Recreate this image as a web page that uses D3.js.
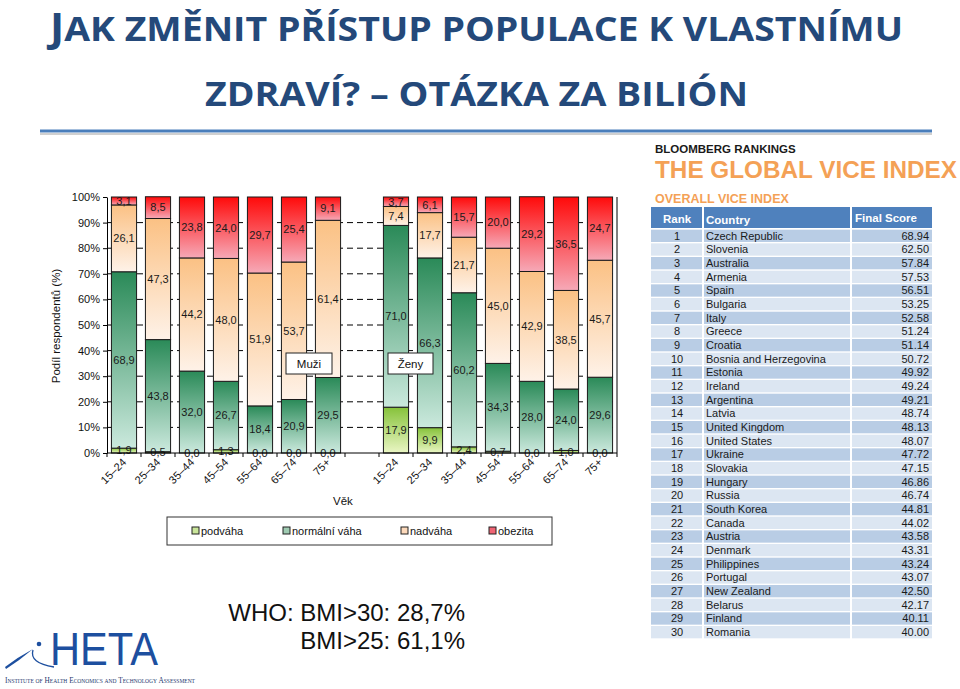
<!DOCTYPE html>
<html><head><meta charset="utf-8">
<script src="https://cdn.jsdelivr.net/npm/d3@7"></script>
<style>
body{margin:0;background:#fff;}
svg{display:block;font-family:"Liberation Sans",Arial,sans-serif;}
</style></head>
<body>
<svg id="c" width="960" height="689"></svg>
<script>
// ---------- DATA ----------
const ageGroups = ["15–24","25–34","35–44","45–54","55–64","65–74","75+"];
const seriesNames = ["podváha","normální váha","nadváha","obezita"];
const maleUnder  = [1.9, 0.5, 0.0, 1.3, 0.0, 0.0, 0.0];
const maleNormal = [68.9, 43.8, 32.0, 26.7, 18.4, 20.9, 29.5];
const maleOver   = [26.1, 47.3, 44.2, 48.0, 51.9, 53.7, 61.4];
const maleObese  = [3.1, 8.5, 23.8, 24.0, 29.7, 25.4, 9.1];
const femaleUnder  = [17.9, 9.9, 2.4, 0.7, 0.0, 1.0, 0.0];
const femaleNormal = [71.0, 66.3, 60.2, 34.3, 28.0, 24.0, 29.6];
const femaleOver   = [7.4, 17.7, 21.7, 45.0, 42.9, 38.5, 45.7];
const femaleObese  = [3.7, 6.1, 15.7, 20.0, 29.2, 36.5, 24.7];
const yTicks = [0,10,20,30,40,50,60,70,80,90,100];
const gridTicks = [10,20,30,40,50,60,70,80,90];

const ranks = [1,2,3,4,5,6,7,8,9,10,11,12,13,14,15,16,17,18,19,20,21,22,23,24,25,26,27,28,29,30];
const countries = ["Czech Republic","Slovenia","Australia","Armenia","Spain","Bulgaria","Italy","Greece","Croatia","Bosnia and Herzegovina","Estonia","Ireland","Argentina","Latvia","United Kingdom","United States","Ukraine","Slovakia","Hungary","Russia","South Korea","Canada","Austria","Denmark","Philippines","Portugal","New Zealand","Belarus","Finland","Romania"];
const scores = ["68.94","62.50","57.84","57.53","56.51","53.25","52.58","51.24","51.14","50.72","49.92","49.24","49.21","48.74","48.13","48.07","47.72","47.15","46.86","46.74","44.81","44.02","43.58","43.31","43.24","43.07","42.50","42.17","40.11","40.00"];

// ---------- BUILD ----------
const svg = d3.select("#c");
const defs = svg.append("defs");
const gradStops = {
  "podváha": ["#86c23a","#eaf6c4"],
  "normální váha": ["#2a8a58","#cbe9dd"],
  "nadváha": ["#fbc184","#fef2e8"],
  "obezita": ["#ff0a0a","#f6a9b7"]
};
const legendFill = {"podváha":"#c9e59a","normální váha":"#9fcbb2","nadváha":"#fcd9bb","obezita":"#f06474"};
seriesNames.forEach((s,i)=>{
  const g = defs.append("linearGradient").attr("id","g"+i).attr("x1",0).attr("y1",0).attr("x2",0).attr("y2",1);
  g.append("stop").attr("offset","0%").attr("stop-color",gradStops[s][0]);
  g.append("stop").attr("offset","100%").attr("stop-color",gradStops[s][1]);
});

// Title
const titleColor = "#24497a";
const tf = '"Liberation Sans Narrow","Open Sans",sans-serif';
const t1 = svg.append("text").attr("x",50).attr("y",41).attr("fill",titleColor)
  .attr("font-family",tf).attr("font-weight","bold")
  .attr("textLength",853).attr("lengthAdjust","spacingAndGlyphs");
t1.append("tspan").attr("font-size",39).text("J");
t1.append("tspan").attr("font-size",34).text("AK ZMĚNIT PŘÍSTUP POPULACE K VLASTNÍMU");
svg.append("text").attr("x",205).attr("y",106).attr("fill",titleColor)
  .attr("font-family",tf).attr("font-weight","bold").attr("font-size",34)
  .attr("textLength",543).attr("lengthAdjust","spacingAndGlyphs")
  .text("ZDRAVÍ? – OTÁZKA ZA BILIÓN");
svg.append("line").attr("x1",40).attr("x2",932).attr("y1",134).attr("y2",134).attr("stroke","#d0d0d0").attr("stroke-width",2);
svg.append("line").attr("x1",40).attr("x2",932).attr("y1",131).attr("y2",131).attr("stroke","#4a7ebb").attr("stroke-width",3);

// ---------- CHART ----------
const slotKeys = ageGroups.map(a=>"M|"+a).concat(["gap"]).concat(ageGroups.map(a=>"F|"+a));
const x = d3.scaleBand().domain(slotKeys).range([107,617]).paddingInner(0.26).paddingOuter(0.13);
const y = d3.scaleLinear().domain([0,100]).range([453,197]);
const chart = svg.append("g");

// gridlines
chart.selectAll(".grid").data(gridTicks).join("line")
  .attr("x1",107).attr("x2",617).attr("y1",d=>y(d)).attr("y2",d=>y(d))
  .attr("stroke","#000").attr("stroke-width",1).attr("stroke-dasharray","6,4");

const rows = [];
ageGroups.forEach((a,i)=>{
  rows.push({key:"M|"+a, "podváha":maleUnder[i], "normální váha":maleNormal[i], "nadváha":maleOver[i], "obezita":maleObese[i]});
});
ageGroups.forEach((a,i)=>{
  rows.push({key:"F|"+a, "podváha":femaleUnder[i], "normální váha":femaleNormal[i], "nadváha":femaleOver[i], "obezita":femaleObese[i]});
});
const stacked = d3.stack().keys(seriesNames)(rows);

stacked.forEach((layer,li)=>{
  const g = chart.append("g");
  g.selectAll("rect").data(layer.filter(d=>d[1]-d[0]>0)).join("rect")
    .attr("x",d=>x(d.data.key)).attr("width",x.bandwidth())
    .attr("y",d=>y(d[1])).attr("height",d=>y(d[0])-y(d[1]))
    .attr("fill","url(#g"+li+")").attr("stroke","#1a1a1a").attr("stroke-width",1);
});
// labels
stacked.forEach((layer,li)=>{
  chart.append("g").selectAll("text").data(layer).join("text")
    .attr("x",d=>x(d.data.key)+x.bandwidth()/2)
    .attr("y",d=>y((d[0]+d[1])/2))
    .attr("dy","0.35em").attr("text-anchor","middle")
    .attr("font-size",11).attr("fill","#1a1a1a")
    .text(d=>(d[1]-d[0]).toFixed(1).replace(".",","));
});

// axes
const yAxis = d3.axisLeft(y).tickValues(yTicks).tickFormat(d=>d+"%").tickSize(4).tickSizeOuter(0);
const ya = chart.append("g").attr("transform","translate(107,0)").call(yAxis);
ya.selectAll("text").attr("font-size",11).attr("fill","#111").attr("font-family","Liberation Sans, Arial, sans-serif");
ya.selectAll("line,path").attr("stroke","#000");
// x axis line + boundary ticks
chart.append("line").attr("x1",107).attr("x2",617).attr("y1",y(0)).attr("y2",y(0)).attr("stroke","#000");
chart.append("line").attr("x1",617).attr("x2",617).attr("y1",y(0)).attr("y2",y(100)).attr("stroke","#000");
const step = x.step();
const bounds = slotKeys.map(k=>x(k)-step*x.paddingInner()/2).concat([x(slotKeys[slotKeys.length-1])+x.bandwidth()+step*x.paddingInner()/2]);
chart.selectAll(".xt").data(bounds).join("line")
  .attr("x1",d=>d).attr("x2",d=>d).attr("y1",y(0)).attr("y2",y(0)+4).attr("stroke","#000");
const xAxis = d3.axisBottom(x).tickSize(0).tickFormat(k=>k==="gap"?"":k.split("|")[1]);
const xa = chart.append("g").attr("transform","translate(0,"+y(0)+")").call(xAxis);
xa.select(".domain").remove();
xa.selectAll("text").attr("font-size",11).attr("fill","#111").attr("font-family","Liberation Sans, Arial, sans-serif")
  .attr("text-anchor","end").attr("dy",null).attr("y",null)
  .attr("transform","translate(3,10) rotate(-45)");

svg.append("text").attr("transform","translate(60,326) rotate(-90)").attr("text-anchor","middle")
  .attr("font-size",11.5).attr("fill","#111").text("Podíl respondentů (%)");
svg.append("text").attr("x",333).attr("y",505).attr("font-size",11.5).attr("fill","#111").text("Věk");

// group annotation boxes
[["Muži",286,353,46],["Ženy",388,353,45]].forEach(b=>{
  svg.append("rect").attr("x",b[1]).attr("y",b[2]).attr("width",b[3]).attr("height",21).attr("fill","#fff").attr("stroke","#222");
  svg.append("text").attr("x",b[1]+b[3]/2).attr("y",b[2]+14.5).attr("text-anchor","middle").attr("font-size",11.5).attr("fill","#111").text(b[0]);
});

// legend
svg.append("rect").attr("x",167).attr("y",517).attr("width",385).attr("height",28).attr("fill","#fff").attr("stroke","#333");
const legX = [192,283,401,489];
seriesNames.forEach((s,i)=>{
  svg.append("rect").attr("x",legX[i]).attr("y",527).attr("width",7).attr("height",7).attr("fill",legendFill[s]).attr("stroke","#222");
  svg.append("text").attr("x",legX[i]+9).attr("y",535).attr("font-size",11).attr("fill","#111").text(s);
});

// ---------- TABLE ----------
svg.append("text").attr("x",655).attr("y",153).attr("font-size",11.5).attr("font-weight","bold").attr("fill","#1a1a1a").text("BLOOMBERG RANKINGS");
svg.append("text").attr("x",655).attr("y",178).attr("font-size",23.5).attr("font-weight","bold").attr("fill","#f4a156")
  .attr("textLength",302).attr("lengthAdjust","spacingAndGlyphs").text("THE GLOBAL VICE INDEX");
svg.append("text").attr("x",655).attr("y",203).attr("font-size",12.5).attr("font-weight","bold").attr("fill","#f4a156").text("OVERALL VICE INDEX");
const cols = [[651,51],[704,146],[852,80]];
cols.forEach(c=>svg.append("rect").attr("x",c[0]).attr("y",207).attr("width",c[1]).attr("height",21).attr("fill","#4f81bd"));
svg.append("text").attr("x",677).attr("y",223).attr("text-anchor","middle").attr("font-size",11.5).attr("font-weight","bold").attr("fill","#fff").text("Rank");
svg.append("text").attr("x",706).attr("y",224).attr("font-size",11.5).attr("font-weight","bold").attr("fill","#fff").text("Country");
svg.append("text").attr("x",855).attr("y",222).attr("font-size",11.5).attr("font-weight","bold").attr("fill","#fff").text("Final Score");

const ry = d3.scaleBand().domain(ranks).range([229,639]).paddingInner(0.1).paddingOuter(0.05);
const tg = svg.append("g");
ranks.forEach((r,i)=>{
  const fill = i%2===0 ? "#b9cde5" : "#dce6f2";
  cols.forEach(c=>tg.append("rect").attr("x",c[0]).attr("y",ry(r)).attr("width",c[1]).attr("height",ry.bandwidth()).attr("fill",fill));
  const cy = ry(r)+ry.bandwidth()/2;
  tg.append("text").attr("x",677).attr("y",cy).attr("dy","0.35em").attr("text-anchor","middle").attr("font-size",11).attr("fill","#1a1a1a").text(r);
  tg.append("text").attr("x",706).attr("y",cy).attr("dy","0.35em").attr("font-size",11).attr("fill","#1a1a1a").text(countries[i]);
  tg.append("text").attr("x",929).attr("y",cy).attr("dy","0.35em").attr("text-anchor","end").attr("font-size",11).attr("fill","#1a1a1a").text(scores[i]);
});

// ---------- WHO note ----------
svg.append("text").attr("x",465).attr("y",621).attr("text-anchor","end").attr("font-size",24).attr("fill","#111").text("WHO: BMI>30: 28,7%");
svg.append("text").attr("x",465).attr("y",649).attr("text-anchor","end").attr("font-size",24).attr("fill","#111").text("BMI>25: 61,1%");

// ---------- HETA logo ----------
const logoBlue = "#1d4f9f";
svg.append("text").attr("x",50).attr("y",665).attr("font-size",46).attr("fill",logoBlue)
  .attr("textLength",108).attr("lengthAdjust","spacingAndGlyphs").text("HETA");
svg.append("path").attr("d","M5,667 Q18,657 33,649 Q20,660 6,669 Z").attr("fill",logoBlue);
svg.append("path").attr("d","M33,650 Q29,663 54,667").attr("fill","none").attr("stroke",logoBlue).attr("stroke-width",1.3);
svg.append("circle").attr("cx",39).attr("cy",644).attr("r",2.3).attr("fill",logoBlue);
svg.append("text").attr("x",5).attr("y",683).attr("font-size",8).attr("font-family","Liberation Serif, serif")
  .attr("font-variant","small-caps").attr("fill","#1f3a6f")
  .attr("textLength",190).attr("lengthAdjust","spacingAndGlyphs")
  .text("Institute of Health Economics and Technology Assessment");
</script>
</body></html>
